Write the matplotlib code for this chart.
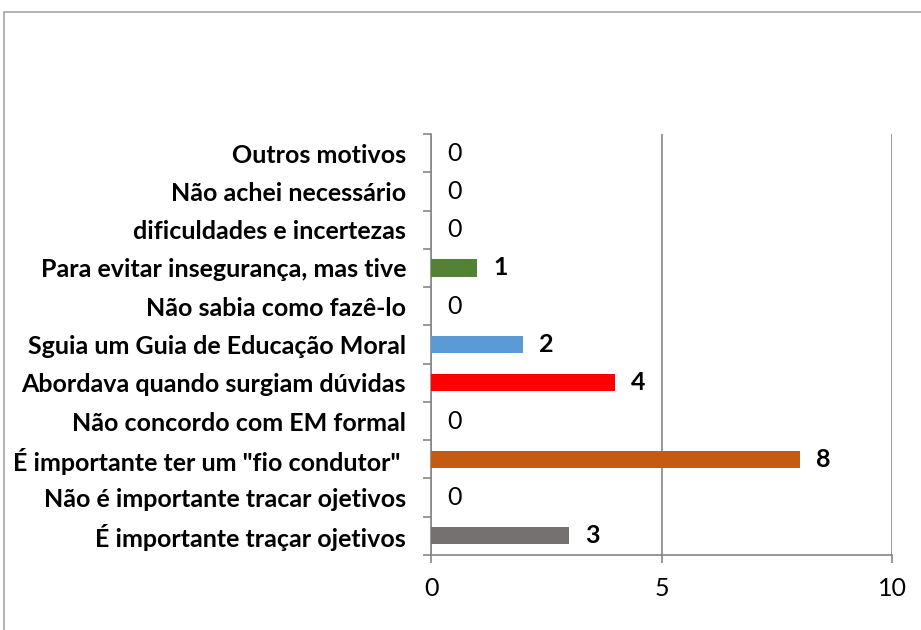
import matplotlib
matplotlib.use("Agg")
import matplotlib.pyplot as plt
from matplotlib.patches import Rectangle

categories = [
    "É importante traçar ojetivos",
    "Não é importante tracar ojetivos",
    "É importante ter um \"fio condutor\" ",
    "Não concordo com EM formal",
    "Abordava quando surgiam dúvidas",
    "Sguia um Guia de Educação Moral",
    "Não sabia como fazê-lo",
    "Para evitar insegurança, mas tive",
    "dificuldades e incertezas",
    "Não achei necessário",
    "Outros motivos",
]
values = [3, 0, 8, 0, 4, 2, 0, 1, 0, 0, 0]
colors = ["#767171", "#767171", "#C55A11", "#767171", "#FF0000", "#5B9BD5",
          "#767171", "#548235", "#767171", "#767171", "#767171"]
xticks = [0, 5, 10]

FONT = "Lato"
W, H = 921, 630
fig = plt.figure(figsize=(W / 100, H / 100), dpi=100)

# outer frame
fig.patches.append(Rectangle((4 / W, -0.1), 1.2, 1 - 12 / H + 0.1,
                             transform=fig.transFigure, fill=False,
                             edgecolor="#A6A6A6", linewidth=1.2))

ax = fig.add_axes([431 / W, 1 - 555 / H, (892 - 431) / W, (555 - 134) / H])
y = list(range(len(categories)))
ax.barh(y, values, height=0.45, color=colors, zorder=3)

ax.set_xlim(0, 10)
ax.set_ylim(-0.5, len(categories) - 0.5)
ax.set_xticks(xticks)
ax.set_xticklabels([str(t) for t in xticks], fontsize=18, family=FONT)
ax.set_yticks(y)
ax.set_yticklabels(categories, fontsize=18, family=FONT, fontweight="bold")
ax.tick_params(axis="y", length=0, pad=18)
ax.tick_params(axis="x", length=6, color="#868686", width=1.2, pad=10)

# minor ticks at category boundaries
ax.set_yticks([i - 0.5 for i in range(len(categories) + 1)], minor=True)
ax.tick_params(axis="y", which="minor", length=6, color="#868686", width=1.2)

for s in ["top", "right"]:
    ax.spines[s].set_visible(False)
for s in ["left", "bottom"]:
    ax.spines[s].set_color("#868686")
    ax.spines[s].set_linewidth(1.2)

ax.grid(axis="x", color="#868686", linewidth=1.2, zorder=0)
ax.set_axisbelow(True)

for yi, v in zip(y, values):
    ax.annotate(str(v), xy=(v, yi), xytext=(16, 0), textcoords="offset pixels",
                ha="left", va="center", fontsize=18, family=FONT,
                fontweight="bold" if v > 0 else "normal", color="black")

fig.savefig("out.png", dpi=100)
